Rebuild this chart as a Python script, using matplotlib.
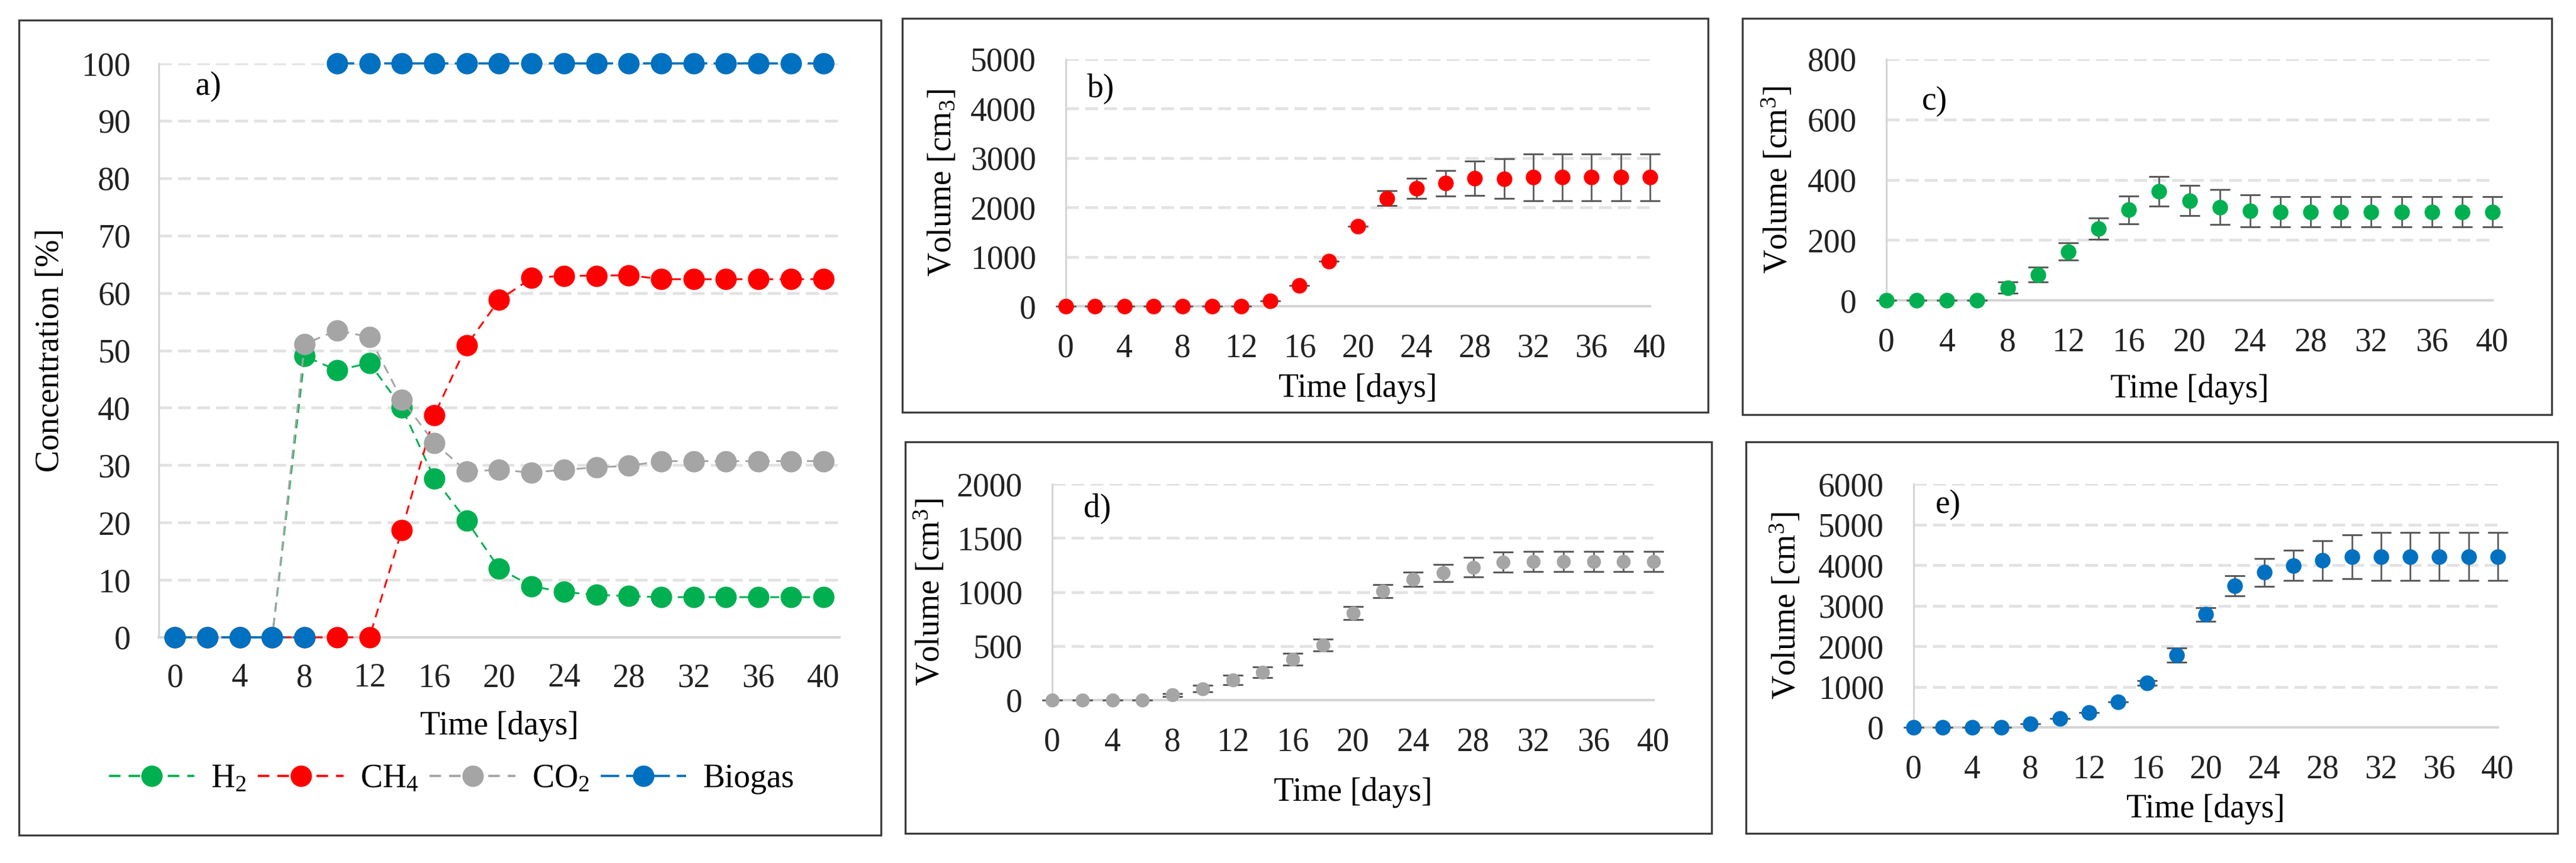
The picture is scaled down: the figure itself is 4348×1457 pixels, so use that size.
import matplotlib
matplotlib.use("Agg")
import matplotlib.pyplot as plt
from matplotlib.patches import Rectangle
from matplotlib.lines import Line2D

plt.rcParams['font.family'] = ['Liberation Serif', 'DejaVu Serif']
plt.rcParams['mathtext.fontset'] = 'custom'
plt.rcParams['mathtext.rm'] = 'Liberation Serif'
plt.rcParams['mathtext.it'] = 'Liberation Serif:italic'

W, H = 4348, 1457
DPI = 100
FS = 40

# sampling days (every 2 days)
days = list(range(0, 41, 2))

# a) gas concentration [%]
h2 = [0, 0, 0, 0, 49.0, 46.5, 47.8, 40.0, 27.7, 20.3, 12.0, 8.9, 7.9, 7.4, 7.2,
      7.0, 7.0, 7.0, 7.0, 7.0, 7.0]
ch4 = [0, 0, 0, 0, 0, 0, 0, 18.7, 38.7, 50.9, 58.8, 62.6, 63.0, 63.0, 63.1,
       62.4, 62.4, 62.4, 62.4, 62.4, 62.4]
co2 = [0, 0, 0, 0, 51.1, 53.5, 52.3, 41.4, 33.9, 28.9, 29.2, 28.7, 29.2, 29.6, 29.9,
       30.7, 30.7, 30.7, 30.7, 30.7, 30.7]
biogas = [0, 0, 0, 0, 0, 100, 100, 100, 100, 100, 100, 100, 100, 100, 100,
          100, 100, 100, 100, 100, 100]

# b) - e) cumulative volume [cm3] with std. deviation
ch4_vol = [0, 0, 0, 0, 0, 0, 0, 110, 425, 906, 1614, 2186, 2387, 2491, 2585,
           2582, 2610, 2610, 2610, 2610, 2610]
ch4_err = [0, 0, 0, 0, 0, 0, 0, 0, 0, 0, 0, 147, 207, 255, 348,
           402, 476, 476, 476, 476, 476]
h2_vol = [0, 0, 0, 0, 42, 85, 162, 238, 300, 361, 331, 309, 297, 293, 293,
          293, 293, 293, 293, 293, 293]
h2_err = [0, 0, 0, 0, 19, 25, 29, 35, 46, 49, 50, 58, 53, 50, 50,
          50, 50, 50, 50, 50, 50]
co2_vol = [0, 0, 0, 0, 48, 106, 185, 259, 378, 511, 807, 1008, 1119, 1177, 1230,
           1278, 1283, 1283, 1283, 1283, 1283]
co2_err = [0, 0, 0, 0, 15, 30, 45, 50, 55, 55, 60, 58, 66, 79, 88,
           93, 93, 93, 93, 93, 93]
bio_vol = [0, 0, 0, 0, 92, 219, 360, 621, 1100, 1784, 2782, 3494, 3818, 3988, 4111,
           4210, 4210, 4210, 4210, 4210, 4210]
bio_err = [0, 0, 0, 0, 0, 0, 0, 0, 60, 176, 166, 247, 346, 370, 494,
           540, 589, 589, 589, 589, 589]

GREEN, RED, GRAY, BLUE = '#00B050', '#FF0000', '#A5A5A5', '#0070C0'
GRID = '#e2e2e2'
AXIS = '#d4d4d4'
TICK = '#222222'

fig = plt.figure(figsize=(W / DPI, H / DPI), dpi=DPI)


def px_axes(l, t, r, b):
    return fig.add_axes([l / W, 1 - b / H, (r - l) / W, (b - t) / H])


def frame(l, t, r, b):
    fig.add_artist(Rectangle((l / W, 1 - b / H), (r - l) / W, (b - t) / H,
                             transform=fig.transFigure, fill=False,
                             ec='#3c3c3c', lw=2.4))


def style(ax, xpad, ypad):
    ax.spines['top'].set_visible(False)
    ax.spines['right'].set_visible(False)
    ax.spines['left'].set_color(AXIS)
    ax.spines['left'].set_linewidth(2.2)
    ax.spines['bottom'].set_color(AXIS)
    ax.spines['bottom'].set_linewidth(3.0)
    ax.set_axisbelow(True)
    ax.yaxis.grid(True, color=GRID, lw=3.4, linestyle=(0, (4.6, 2.2)))
    ax.tick_params(length=0, labelsize=FS, colors=TICK)
    ax.tick_params(axis='x', pad=xpad)
    ax.tick_params(axis='y', pad=ypad)
    ax.set_xticks(range(0, 41, 4))


# ---------------- a) concentrations ----------------
frame(32, 34, 1487, 1410)
ax = px_axes(268, 107, 1417, 1076)
style(ax, 31, 34)
ax.set_xlim(-1, 41)
ax.set_ylim(0, 100)
ax.set_yticks(range(0, 101, 10))

ms_a = 25
dash = (0, (5, 3.5))
ax.plot(days, h2, color=GREEN, lw=2.2, ls=dash, marker='o', ms=ms_a, mec=GREEN,
        clip_on=False, zorder=3)
ax.plot(days, ch4, color=RED, lw=2.2, ls=dash, marker='o', ms=ms_a, mec=RED,
        clip_on=False, zorder=3)
ax.plot(days, co2, color=GRAY, lw=2.2, ls=dash, marker='o', ms=ms_a, mec=GRAY,
        clip_on=False, zorder=3)
# biogas: no connecting line between the zero and the 100 % part
ax.plot(days[:5], biogas[:5], color=BLUE, lw=2.6, ls=(0, (8, 3)), marker='o',
        ms=ms_a, mec=BLUE, clip_on=False, zorder=4)
ax.plot(days[5:], biogas[5:], color=BLUE, lw=2.6, ls=(0, (8, 3)), marker='o',
        ms=ms_a, mec=BLUE, clip_on=False, zorder=4)

ax.text(2.05, 96, 'a)', fontsize=FS, ha='center', va='center')
ax.set_xlabel('Time [days]', fontsize=FS)
ax.set_ylabel('Concentration [%]', fontsize=FS)
ax.xaxis.set_label_coords(0.5, -0.128)
ax.yaxis.set_label_coords(-0.137, 0.5)

handles = [
    Line2D([], [], color=GREEN, lw=2.8, ls=dash, marker='o', ms=ms_a),
    Line2D([], [], color=RED, lw=2.8, ls=dash, marker='o', ms=ms_a),
    Line2D([], [], color=GRAY, lw=2.8, ls=dash, marker='o', ms=ms_a),
    Line2D([], [], color=BLUE, lw=2.8, ls=(0, (8, 3)), marker='o', ms=ms_a),
]
labels = ['H$_2$', 'CH$_4$', 'CO$_2$', 'Biogas']
ax.legend(handles, labels, loc='center', bbox_to_anchor=(0.43, -0.247),
          ncol=4, frameon=False, fontsize=FS, handlelength=2.6,
          handletextpad=0.5, columnspacing=0.35, borderaxespad=0)


# ---------------- b) - e) volumes ----------------
def volume_panel(box, axbox, values, errors, color, ms, ymax, ystep, tag, tagxy,
                 ylabel, xlab_y, ylab_x):
    frame(*box)
    a = px_axes(*axbox)
    style(a, 33, 36)
    a.set_xlim(0, 40)
    a.set_ylim(0, ymax)
    a.set_yticks(range(0, ymax + 1, ystep))
    a.errorbar(days, values, yerr=errors, fmt='none', ecolor='#5a5a5a',
               elinewidth=2.0, capsize=12, capthick=2.2, clip_on=False, zorder=3)
    a.plot(days, values, ls='none', marker='o', ms=ms, color=color, mec=color,
           clip_on=False, zorder=4)
    a.text(tagxy[0], tagxy[1], tag, fontsize=FS, ha='center', va='center')
    a.set_xlabel('Time [days]', fontsize=FS)
    a.set_ylabel(ylabel, fontsize=FS)
    a.xaxis.set_label_coords(0.5, xlab_y)
    a.yaxis.set_label_coords(ylab_x, 0.5)
    return a


volume_panel((1523, 31, 2883, 696), (1799, 100, 2785, 517), ch4_vol, ch4_err,
             RED, 18, 5000, 1000, 'b)', (2.4, 4400), 'Volume [cm$_3$]', -0.27, -0.185)
volume_panel((2941, 31, 4307, 700), (3184, 100, 4207, 507), h2_vol, h2_err,
             GREEN, 18, 800, 200, 'c)', (3.2, 660), 'Volume [cm$^3$]', -0.305, -0.152)
volume_panel((1528, 746, 2889, 1407), (1776, 817, 2791, 1182), co2_vol, co2_err,
             GRAY, 16, 2000, 500, 'd)', (3.0, 1770), 'Volume [cm$^3$]', -0.355, -0.175)
volume_panel((2947, 746, 4317, 1407), (3230, 817, 4216, 1228), bio_vol, bio_err,
             BLUE, 18, 6000, 1000, 'e)', (2.35, 5490), 'Volume [cm$^3$]', -0.272, -0.19)

fig.savefig('out.png', dpi=DPI)
